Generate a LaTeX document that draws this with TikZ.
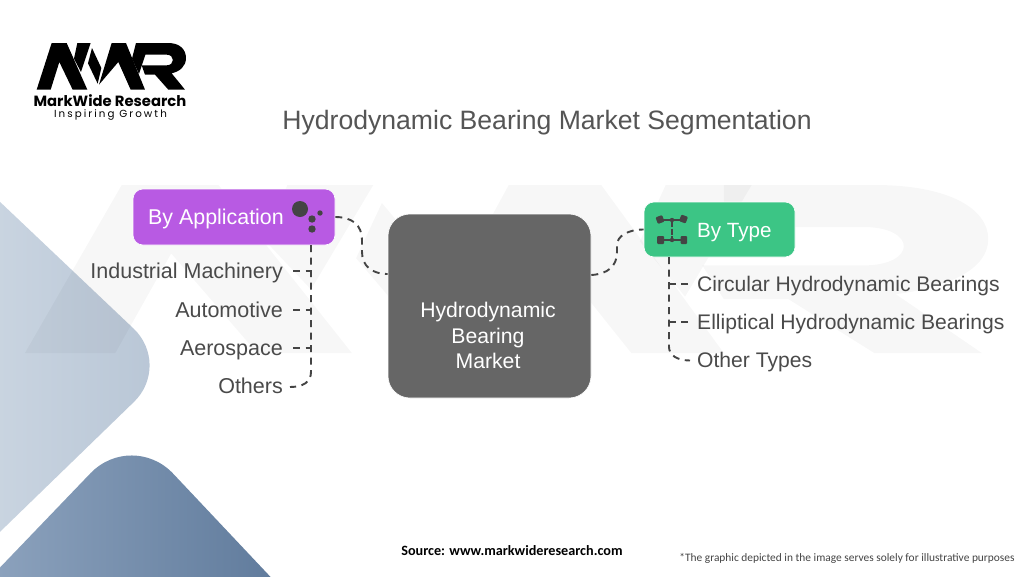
\documentclass[tikz,border=0pt]{standalone}
\usepackage{fontspec}
\setmainfont{Liberation Sans}
\newfontfamily\logofont{Poppins}
\newfontfamily\logospaced[LetterSpace=20]{Poppins}
\newfontfamily\notefont{Carlito}
\usetikzlibrary{calc}
\definecolor{ink}{HTML}{444444}
\definecolor{labelgrey}{HTML}{4A4A4A}
\definecolor{titlegrey}{HTML}{555555}
\definecolor{appbox}{HTML}{B85AE3}
\definecolor{typebox}{HTML}{3CC585}
\definecolor{corebox}{HTML}{666666}
\definecolor{lightA}{HTML}{CFD9E4}
\definecolor{lightB}{HTML}{B7C5D5}
\definecolor{darkA}{HTML}{94A9C3}
\definecolor{darkB}{HTML}{587496}
\newcommand{\logoshape}{%
  \fill (20,155) -- (65,15) -- (110,15) -- (172,155) -- (128,155) -- (88,72) -- (62,155) -- cycle;
  \fill (142,15) -- (182,15) -- (153,102) -- (132,62) -- cycle;
  \fill (186,30) -- (214,90) -- (203,137) -- (174,76) -- cycle;
  \fill (207,140) -- (245,15) -- (288,15) -- (345,155) -- (302,155) -- (265,72) -- cycle;
  \fill (318,15) -- (358,15) -- (327,108) -- (306,62) -- cycle;
  \fill (345,15) -- (415,15) .. controls (450,15) and (468,35) .. (468,60) .. controls (468,85) and (450,100) .. (425,106) -- (465,155) -- (415,155) -- (375,110) -- (345,110) -- (335,82) -- (410,82) .. controls (435,82) and (435,50) .. (410,50) -- (345,50) -- cycle;
}
\tikzset{
  x=1pt,y=-1pt,
  conn/.style={draw=ink,line width=1.9pt,dash pattern=on 7pt off 5.5pt},
  groupbox/.style={rectangle,rounded corners=10pt,text=white,inner sep=0pt,draw=white,line width=0.6pt},
  corenode/.style={rectangle,rounded corners=22pt,fill=corebox,draw=white,line width=0.6pt,minimum width=203pt,minimum height=184pt,inner sep=0pt},
  leaf/.style={text=labelgrey,font=\fontsize{21.5}{24}\selectfont,inner sep=0pt},
  rightleaf/.style={text=labelgrey,font=\fontsize{21.1}{24}\selectfont,inner sep=0pt},
  corelabel/.style={text=white,font=\fontsize{21.2}{25.5}\selectfont,inner sep=0pt,align=center},
  dot/.style={fill=ink},
}
\begin{document}
\begin{tikzpicture}
\useasboundingbox (0,0) rectangle (1024,576);
\fill[white] (0,0) rectangle (1024,576);
\begin{scope}
\clip (0,0) rectangle (1024,576);
\shade[left color=lightA,right color=lightB,rounded corners=53pt] (-60,145) -- (172,365) -- (-60,590) -- cycle;
\shade[shading angle=-45,left color=darkA,right color=darkB,rounded corners=60pt] (-60,630) -- (132,430) -- (330,640) -- cycle;
\begin{scope}[shift={(-18,167)},x=2.15pt,y=-1.2pt,black,opacity=0.03]
\logoshape
\end{scope}
\end{scope}

% logo
\begin{scope}[shift={(30,38)},x=0.3333pt,y=-0.3333pt,black]
\logoshape
\end{scope}
\node[inner sep=0pt,anchor=base,text=black,font=\logofont\bfseries\fontsize{14.8}{16}\selectfont] (brand) at (110,106.5) {MarkWide Research};
\node[inner sep=0pt,anchor=base,text=black,font=\logospaced\fontsize{10.3}{11}\selectfont] (motto) at (110.5,117.5) {Inspiring Growth};

\node[inner sep=0pt,anchor=base,text=titlegrey,font=\fontsize{26.6}{30}\selectfont] (title) at (547,129.5) {Hydrodynamic Bearing Market Segmentation};

% main boxes
\node[corenode] (core) at (489.5,306) {};
\node[corelabel] (coretext) at (488,335.5) {Hydrodynamic\\Bearing\\Market};
\node[groupbox,fill=appbox,minimum width=202pt,minimum height=56pt] (app) at (234,217) {};
\node[groupbox,fill=typebox,minimum width=151pt,minimum height=55pt] (type) at (719.5,229.5) {};
\node[inner sep=0pt,anchor=base west,text=white,font=\fontsize{21.4}{24}\selectfont] (applabel) at (148,224) {By Application};
\node[inner sep=0pt,anchor=base west,text=white,font=\fontsize{20.6}{24}\selectfont] (typelabel) at (697,237) {By Type};

% leaves
\node[leaf,anchor=base east] (ind) at (283,278.5) {Industrial Machinery};
\node[leaf,anchor=base east] (aut) at (283,317) {Automotive};
\node[leaf,anchor=base east] (aer) at (283,355.5) {Aerospace};
\node[leaf,anchor=base east] (oth) at (283,393.5) {Others};
\node[rightleaf,anchor=base west] (cir) at (697,291) {Circular Hydrodynamic Bearings};
\node[rightleaf,anchor=base west] (ell) at (697,329.5) {Elliptical Hydrodynamic Bearings};
\node[rightleaf,anchor=base west] (oty) at (697,367.5) {Other Types};

% connectors
\coordinate (coreL) at ($(core.west)+(0,-32)$);
\coordinate (coreR) at ($(core.east)+(0,-31)$);
\coordinate (appDrop) at (311,245);
\coordinate (typeDrop) at (669,257);
\coordinate (indT) at (293,271);
\coordinate (autT) at (293,310);
\coordinate (aerT) at (293,348);
\coordinate (othT) at (290,387);
\coordinate (cirT) at (688,284);
\coordinate (ellT) at (688,322);
\coordinate (otyT) at (690,360.5);
\draw[conn] (app.east) .. controls (352,217) and (362,225) .. (362,240) -- (362,252) .. controls (362,266) and (372,274) .. (coreL);
\draw[conn] (coreR) .. controls (608,274) and (617,266) .. (617,252) -- (617,245) .. controls (617,236) and (628,229.5) .. (type.west);
\draw[conn] (appDrop) -- (311,372) .. controls (311,382) and (303,387) .. (othT);
\draw[conn] (indT) -- (indT -| appDrop);
\draw[conn] (autT) -- (autT -| appDrop);
\draw[conn] (aerT) -- (aerT -| appDrop);
\draw[conn] (typeDrop) -- (669,347) .. controls (669,355) and (677,360.5) .. (otyT);
\draw[conn] (cirT) -- (cirT -| typeDrop);
\draw[conn] (ellT) -- (ellT -| typeDrop);

% application icon
\fill[dot] (300,209) circle (8pt);
\fill[dot] (312,219) circle (3.7pt);
\fill[dot] (320,213) circle (2.7pt);
\fill[dot] (312,229) circle (3.7pt);

% type icon
\draw[ink,line width=1.3pt] (661,220) -- (683,220) (661,240) -- (684,240);
\draw[ink,line width=1.6pt,dash pattern=on 6pt off 1.5pt] (672,221) -- (672,240);
\fill[dot] (672,220) circle (2.2pt) (672,240) circle (2.2pt);
\fill[dot,rounded corners=1pt,rotate around={20:(660,219.5)}] (656.5,216) rectangle (663.5,223);
\fill[dot,rounded corners=1pt,rotate around={-20:(683.5,219)}] (680,215.5) rectangle (687,222.5);
\fill[dot,rounded corners=1pt] (657,236) rectangle (664,244);
\fill[dot,rounded corners=1pt] (680.5,236) rectangle (687,244);

% footer
\node[inner sep=0pt,text=black,font=\notefont\bfseries\fontsize{14.2}{16}\selectfont] (source) at (512,551) {Source: www.markwideresearch.com};
\node[inner sep=0pt,text=ink,font=\notefont\fontsize{11.4}{13}\selectfont] (note) at (847,558) {*The graphic depicted in the image serves solely for illustrative purposes};
\end{tikzpicture}
\end{document}
